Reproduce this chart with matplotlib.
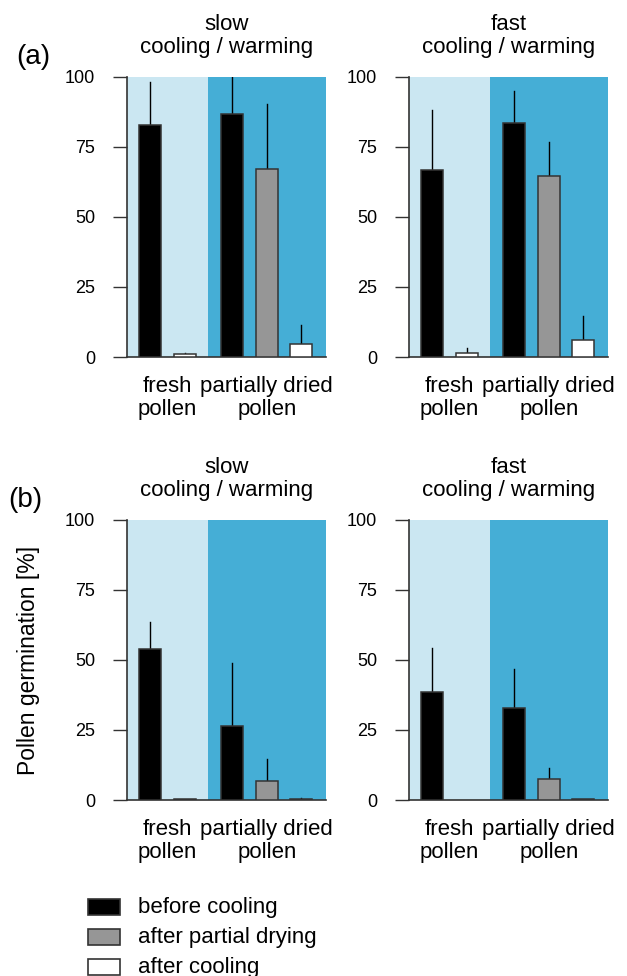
import matplotlib.pyplot as plt
from matplotlib.patches import Rectangle
import numpy as np

plt.rcParams['font.family'] = ['Liberation Sans', 'DejaVu Sans']

# bar order: fresh (before, after cooling), dried (before, after drying, after cooling)
kinds = ['before', 'after', 'before', 'drying', 'after']
slow_a = [82.8, 1.0, 86.6, 67.1, 4.5]
slow_a_err = [15.2, 0.6, 13.4, 23.0, 6.9]
fast_a = [66.7, 1.5, 83.5, 64.7, 6.1]
fast_a_err = [21.5, 1.6, 11.5, 11.9, 8.6]
slow_b = [53.8, 0.4, 26.4, 6.8, 0.4]
slow_b_err = [9.8, 0.0, 22.6, 7.7, 0.2]
fast_b = [38.6, 0.0, 33.0, 7.5, 0.4]
fast_b_err = [15.6, 0.0, 13.9, 3.9, 0.0]

titles = ['slow\ncooling / warming', 'fast\ncooling / warming']
group_labels = ['fresh\npollen', 'partially dried\npollen']
legend_labels = ['before cooling', 'after partial drying', 'after cooling']

colors = {'before': '#000000', 'drying': '#969696', 'after': '#ffffff'}
light = '#cbe7f2'
dark = '#45aed6'
edge = '#333333'

# bar positions: two bars in fresh group, three in dried group
pos = np.array([0, 1, 2.38, 3.38, 4.38]) + 0.67
split = 2.35
xmax = 5.75

fig = plt.figure(figsize=(6.27, 9.76), dpi=100)

panels = [
    (slow_a, slow_a_err, 0.2026, 0.6342, titles[0]),
    (fast_a, fast_a_err, 0.6523, 0.6342, titles[1]),
    (slow_b, slow_b_err, 0.2026, 0.1803, titles[0]),
    (fast_b, fast_b_err, 0.6523, 0.1803, titles[1]),
]

for vals, errs, x0, y0, title in panels:
    ax = fig.add_axes([x0, y0, 0.3166, 0.2872])
    ax.axvspan(0, split, color=light, lw=0, zorder=0)
    ax.axvspan(split, xmax, color=dark, lw=0, zorder=0)
    for p, v, e, k in zip(pos, vals, errs, kinds):
        if e > 0:
            ax.plot([p, p], [v, v + e], color='black', lw=1, zorder=2, clip_on=True)
        if v > 0:
            ax.bar(p, v, width=0.64, color=colors[k], edgecolor=edge, lw=1.1, zorder=3)
    ax.set_xlim(0, xmax)
    ax.set_ylim(0, 100)
    ax.set_yticks([0, 25, 50, 75, 100])
    ax.tick_params(axis='y', length=10, width=1, color=edge, labelsize=13, pad=13)
    ax.set_xticks([pos[:2].mean(), pos[3]])
    ax.set_xticklabels(group_labels, fontsize=16, linespacing=1.1)
    ax.tick_params(axis='x', length=0, pad=14)
    for s in ['top', 'right']:
        ax.spines[s].set_visible(False)
    for s in ['left', 'bottom']:
        ax.spines[s].set_color(edge)
        ax.spines[s].set_linewidth(1.2)
    ax.set_title(title, fontsize=16, pad=17, linespacing=1.15)

fig.text(33 / 627, 1 - 57 / 976, '(a)', fontsize=20, ha='center', va='center')
fig.text(25 / 627, 1 - 500 / 976, '(b)', fontsize=20, ha='center', va='center')
fig.text(29 / 627, 1 - 660 / 976, 'Pollen germination [%]', fontsize=16.5,
         rotation=90, ha='center', va='center')

# legend
for i, (lab, k) in enumerate(zip(legend_labels, ['before', 'drying', 'after'])):
    yc = 907 + i * 30
    fig.add_artist(Rectangle((88 / 627, 1 - (yc + 8) / 976), 32 / 627, 16 / 976,
                             facecolor=colors[k], edgecolor=edge, lw=1.2,
                             transform=fig.transFigure))
    fig.text(138 / 627, 1 - yc / 976, lab, fontsize=16, ha='left', va='center')

fig.savefig('out.png', dpi=100)
